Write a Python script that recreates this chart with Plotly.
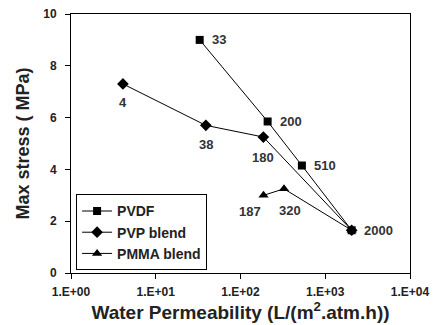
import math
import plotly.graph_objects as go

# Water permeability (L/(m2.atm.h)) and max stress (MPa) per membrane series
pvdf_perm = [33, 209, 530, 2050]
pvdf_stress = [9.0, 5.85, 4.15, 1.65]
pvdf_labels = ["33", "200", "510", "2000"]

pvp_perm = [4.1, 39, 186, 2050]
pvp_stress = [7.3, 5.7, 5.25, 1.65]
pvp_labels = ["4", "38", "180", None]

pmma_perm = [187, 326, 2050]
pmma_stress = [3.0, 3.25, 1.65]
pmma_labels = ["187", "320", None]

x_ticks = [1, 10, 100, 1000, 10000]
x_tick_labels = ["1.E+00", "1.E+01", "1.E+02", "1.E+03", "1.E+04"]
y_ticks = [0, 2, 4, 6, 8, 10]

FONT = "Liberation Sans, Arial, sans-serif"
INK = "#222222"

# label placement per series: (xanchor, yanchor, xshift, yshift) for each point
pvdf_place = [("left", "middle", 10, 0)] * 4
pvp_place = [("center", "top", 0, -9), ("center", "top", 0, -10), ("center", "top", 0, -11), None]
pmma_place = [("center", "top", -14, -7), ("center", "top", 6, -12), None]

fig = go.Figure()


def add_series(name, x, y, labels, place, symbol, size):
    fig.add_trace(go.Scatter(
        x=x, y=y, name=name, mode="lines+markers",
        line=dict(color="black", width=1),
        marker=dict(symbol=symbol, size=size, color="black"),
    ))
    for xi, yi, lab, pl in zip(x, y, labels, place):
        if not lab:
            continue
        xa, ya, dx, dy = pl
        fig.add_annotation(
            x=math.log10(xi), y=yi, text=f"<b>{lab}</b>", showarrow=False,
            xanchor=xa, yanchor=ya, xshift=dx, yshift=dy,
            font=dict(family=FONT, size=13, color="#333333"),
        )


add_series("<b>PVDF</b>", pvdf_perm, pvdf_stress, pvdf_labels, pvdf_place, "square", 8)
add_series("<b>PVP blend</b>", pvp_perm, pvp_stress, pvp_labels, pvp_place, "diamond", 9)
add_series("<b>PMMA blend</b>", pmma_perm, pmma_stress, pmma_labels, pmma_place, "triangle-up", 9)

axis_common = dict(
    showline=True, linecolor="black", linewidth=1, mirror=True,
    ticks="outside", ticklen=5, tickcolor="black", showgrid=False, zeroline=False,
    tickfont=dict(family=FONT, size=12, color=INK), automargin=False,
)

fig.update_xaxes(
    type="log", range=[0, 4], tickvals=x_ticks, ticktext=[f"<b>{t}</b>" for t in x_tick_labels],
    ticklabelstandoff=3,
    title=dict(text="<b>Water Permeability (L/(m<sup>2</sup>.atm.h))</b>",
               font=dict(family=FONT, size=19, color=INK), standoff=6),
    **axis_common,
)
fig.update_yaxes(
    range=[0, 10], tickvals=y_ticks, ticktext=[f"<b>{t}</b>" for t in y_ticks],
    ticklabelstandoff=6,
    title=dict(text="<b>Max stress ( MPa)</b>",
               font=dict(family=FONT, size=18, color=INK), standoff=8),
    **axis_common,
)

fig.update_layout(
    width=434, height=325,
    margin=dict(l=71, r=24, t=14, b=52),
    paper_bgcolor="white", plot_bgcolor="white",
    legend=dict(
        x=0.015, y=0.01, xanchor="left", yanchor="bottom",
        bordercolor="black", borderwidth=1, bgcolor="white",
        font=dict(family=FONT, size=14, color=INK),
        itemwidth=30, tracegroupgap=0,
    ),
)

fig.write_html("out.html")
